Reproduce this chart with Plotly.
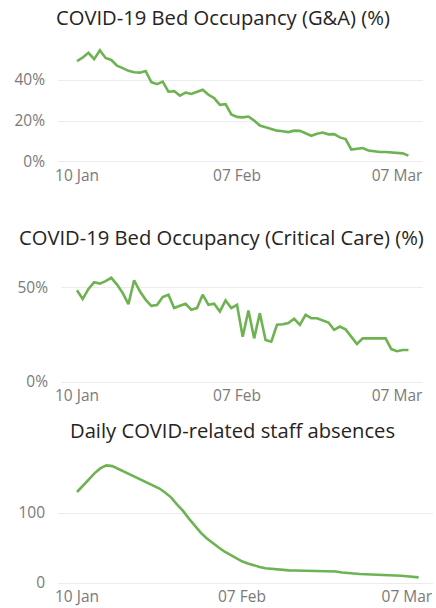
import pandas as pd
import plotly.graph_objects as go

dates = pd.date_range("2021-01-10", periods=59, freq="D")

ga_occupancy = [49.2, 51.0, 53.3, 50.2, 54.5, 50.8, 49.8, 47.0, 45.8, 44.5,
                43.8, 43.6, 44.4, 39.0, 38.0, 39.2, 34.3, 34.6, 32.4, 33.9,
                33.2, 34.3, 35.3, 32.8, 31.2, 27.9, 28.2, 23.2, 22.0, 21.8,
                22.2, 20.2, 17.8, 17.0, 16.1, 15.3, 15.0, 14.6, 15.3, 15.2,
                14.0, 12.8, 13.8, 14.4, 13.5, 13.6, 12.0, 11.2, 6.1, 6.3,
                6.8, 5.6, 5.2, 4.9, 4.9, 4.6, 4.3, 4.2, 3.1]

cc_occupancy = [48.8, 44.1, 49.5, 53.0, 52.3, 53.6, 55.4, 51.8, 47.3, 41.4,
                54.1, 48.2, 43.8, 40.5, 40.9, 45.2, 46.4, 39.3, 40.5, 41.6,
                38.4, 39.3, 46.4, 41.0, 41.6, 37.5, 43.4, 39.3, 41.0, 24.1,
                38.0, 23.2, 36.6, 22.3, 21.4, 30.4, 30.7, 31.3, 33.6, 30.4,
                35.7, 33.9, 33.9, 32.7, 31.6, 27.7, 29.5, 28.0, 24.1, 20.2,
                23.2, 23.2, 23.2, 23.2, 23.2, 17.5, 16.4, 17.0, 17.0]

staff_absences = [130, 139, 148, 157, 164, 168, 167, 163, 158, 154,
                  150, 146, 142, 138, 135, 129, 122, 112, 103, 92,
                  82, 72, 64, 57, 51, 45, 40, 35, 31, 28,
                  25, 23, 21, 20, 19, 18.5, 18, 17.8, 17.5, 17.3,
                  17.2, 17, 17, 17, 16.5, 15, 14, 13.2, 12.8, 12.4,
                  12.2, 12, 11.8, 11.5, 11, 10.3, 9.6, 8.8, 8]

titles = ["COVID-19 Bed Occupancy (G&A) (%)",
          "COVID-19 Bed Occupancy (Critical Care) (%)",
          "Daily COVID-related staff absences"]

x_tick_vals = ["2021-01-10", "2021-02-07", "2021-03-07"]
x_tick_text = ["10 Jan", "07 Feb", "07 Mar"]

y1_ticks = [0, 20, 40]
y1_text = ["0%", "20%", "40%"]
y2_ticks = [0, 50]
y2_text = ["0%", "50%"]
y3_ticks = [0, 100]
y3_text = ["0", "100"]

W, H = 436, 608
GREEN = "#6DB352"
FONT = "Open Sans"
base = pd.Timestamp("2021-01-10")


def xr(a, b):
    return [(base + pd.Timedelta(days=a)).strftime("%Y-%m-%d %H:%M:%S"),
            (base + pd.Timedelta(days=b)).strftime("%Y-%m-%d %H:%M:%S")]


def xd(l, r):
    return [l / W, r / W]


def yd(top, bottom):
    return [1 - bottom / H, 1 - top / H]


fig = go.Figure()
series = [ga_occupancy, cc_occupancy, staff_absences]
for i, s in enumerate(series):
    sfx = "" if i == 0 else str(i + 1)
    fig.add_trace(go.Scatter(x=dates, y=s, mode="lines",
                             line=dict(color=GREEN, width=2.6),
                             xaxis="x" + sfx, yaxis="y" + sfx,
                             showlegend=False, hoverinfo="skip"))

xcommon = dict(type="date", tickmode="array", tickvals=x_tick_vals, ticktext=x_tick_text,
               showgrid=False, zeroline=False, showline=False, ticks="", automargin=False,
               tickfont=dict(family=FONT, size=15.5, color="#7a7a7a"), fixedrange=True)
ycommon = dict(tickmode="array", showgrid=True, gridcolor="#ececec", gridwidth=1,
               zeroline=False, showline=False, ticks="", ticklabelstandoff=12, automargin=False,
               tickfont=dict(family=FONT, size=15.5, color="#7a7a7a"), fixedrange=True)

fig.update_layout(
    width=W, height=H, margin=dict(l=0, r=0, t=0, b=0, autoexpand=False),
    paper_bgcolor="white", plot_bgcolor="white",
    xaxis=dict(xcommon, domain=xd(58, 423), range=xr(-3.33, 60.55), anchor="y"),
    yaxis=dict(ycommon, domain=yd(45, 164), range=[-0.98, 57.1],
               tickvals=y1_ticks, ticktext=y1_text, anchor="x"),
    xaxis2=dict(xcommon, domain=xd(61, 423), range=xr(-2.8, 60.55), anchor="y2"),
    yaxis2=dict(ycommon, domain=yd(265, 384), range=[-1.06, 62.2],
                tickvals=y2_ticks, ticktext=y2_text, anchor="x2"),
    xaxis3=dict(xcommon, domain=xd(58, 433), range=xr(-3.23, 60.44), anchor="y3"),
    yaxis3=dict(ycommon, domain=yd(450, 585), range=[-2.86, 190],
                tickvals=y3_ticks, ticktext=y3_text, anchor="x3"),
)

title_pos = [(223, 17), (222, 237), (232, 430)]
for t, (cx, cy) in zip(titles, title_pos):
    fig.add_annotation(text=t, x=cx / W, y=1 - cy / H, xref="paper", yref="paper",
                       showarrow=False, xanchor="center", yanchor="middle",
                       font=dict(family=FONT, size=20.2, color="#252423"))

fig.write_html("out.html", config={"displayModeBar": False},
               post_script="document.body.style.margin='0px';document.body.style.overflow='hidden';")
